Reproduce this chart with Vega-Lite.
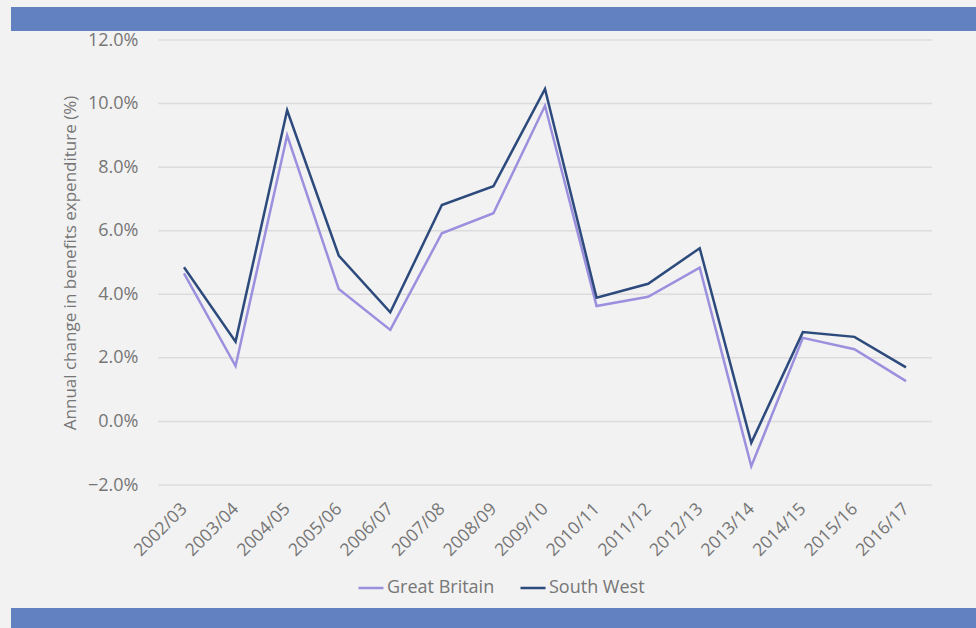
{
  "$schema": "https://vega.github.io/schema/vega-lite/v6.json",
  "background": "#f2f2f2",
  "padding": {"left": 11, "top": 7, "right": 0, "bottom": 0},
  "spacing": 0,
  "config": {
    "font": "Open Sans",
    "view": {"stroke": null}
  },
  "resolve": {"scale": {"color": "independent"}, "legend": {"color": "independent"}},
  "vconcat": [
    {
      "width": 965,
      "height": 24,
      "view": {"fill": "#6281c1", "stroke": null},
      "data": {"values": [{"band": "top"}]},
      "mark": {"type": "rect", "color": "#6281c1"},
      "encoding": {}
    },
    {
      "width": 965,
      "height": 445,
      "encoding": {
        "x": {
          "type": "ordinal",
          "sort": null,
          "scale": {
            "type": "point",
            "padding": 0,
            "domain": ["2002/03", "2003/04", "2004/05", "2005/06", "2006/07", "2007/08", "2008/09", "2009/10", "2010/11", "2011/12", "2012/13", "2013/14", "2014/15", "2015/16", "2016/17"],
            "range": [173, 895]
          },
          "axis": {
            "title": null,
            "labelAngle": -45,
            "labelAlign": "right",
            "labelBaseline": "middle",
            "labelFontSize": 17.5,
            "labelColor": "#767676",
            "domain": false,
            "ticks": false,
            "grid": false,
            "labelPadding": 21
          }
        },
        "y": {
          "type": "quantitative",
          "scale": {"domain": [-2, 12], "nice": false, "zero": false},
          "axis": {
            "values": [-2, 0, 2, 4, 6, 8, 10, 12],
            "labelExpr": "format(datum.value, '.1f') + '%'",
            "title": "Annual change in benefits expenditure (%)",
            "titleFontSize": 17,
            "titleFontWeight": "normal",
            "titleColor": "#767676",
            "titlePadding": 8,
            "labelFontSize": 18,
            "labelColor": "#767676",
            "labelPadding": 20,
            "offset": -147,
            "domain": false,
            "ticks": false,
            "grid": false
          }
        }
      },
      "layer": [
        {
          "data": {
            "values": [
              {"gridValue": -2}, {"gridValue": 0}, {"gridValue": 2}, {"gridValue": 4},
              {"gridValue": 6}, {"gridValue": 8}, {"gridValue": 10}, {"gridValue": 12}
            ]
          },
          "mark": {"type": "rule", "color": "#dcdcdc", "strokeWidth": 1.5, "xOffset": -25.8, "x2Offset": 25.8},
          "encoding": {
            "x": {"datum": "2002/03", "type": "ordinal"},
            "x2": {"datum": "2016/17"},
            "y": {"field": "gridValue", "type": "quantitative"}
          }
        },
        {
          "data": {
            "values": [
              {"year": "2002/03", "region": "Great Britain", "value": 4.66},
              {"year": "2003/04", "region": "Great Britain", "value": 1.74},
              {"year": "2004/05", "region": "Great Britain", "value": 9.00},
              {"year": "2005/06", "region": "Great Britain", "value": 4.17},
              {"year": "2006/07", "region": "Great Britain", "value": 2.88},
              {"year": "2007/08", "region": "Great Britain", "value": 5.92},
              {"year": "2008/09", "region": "Great Britain", "value": 6.55},
              {"year": "2009/10", "region": "Great Britain", "value": 9.93},
              {"year": "2010/11", "region": "Great Britain", "value": 3.63},
              {"year": "2011/12", "region": "Great Britain", "value": 3.92},
              {"year": "2012/13", "region": "Great Britain", "value": 4.84},
              {"year": "2013/14", "region": "Great Britain", "value": -1.41},
              {"year": "2014/15", "region": "Great Britain", "value": 2.63},
              {"year": "2015/16", "region": "Great Britain", "value": 2.27},
              {"year": "2016/17", "region": "Great Britain", "value": 1.27},
              {"year": "2002/03", "region": "South West", "value": 4.85},
              {"year": "2003/04", "region": "South West", "value": 2.51},
              {"year": "2004/05", "region": "South West", "value": 9.79},
              {"year": "2005/06", "region": "South West", "value": 5.22},
              {"year": "2006/07", "region": "South West", "value": 3.43},
              {"year": "2007/08", "region": "South West", "value": 6.81},
              {"year": "2008/09", "region": "South West", "value": 7.40},
              {"year": "2009/10", "region": "South West", "value": 10.46},
              {"year": "2010/11", "region": "South West", "value": 3.89},
              {"year": "2011/12", "region": "South West", "value": 4.33},
              {"year": "2012/13", "region": "South West", "value": 5.45},
              {"year": "2013/14", "region": "South West", "value": -0.67},
              {"year": "2014/15", "region": "South West", "value": 2.81},
              {"year": "2015/16", "region": "South West", "value": 2.66},
              {"year": "2016/17", "region": "South West", "value": 1.70}
            ]
          },
          "mark": {"type": "line", "strokeWidth": 2.5},
          "encoding": {
            "x": {"field": "year", "type": "ordinal", "sort": null},
            "y": {"field": "value", "type": "quantitative"},
            "color": {
              "field": "region",
              "type": "nominal",
              "scale": {"domain": ["Great Britain", "South West"], "range": ["#9b90de", "#2d4a7c"]},
              "legend": {
                "title": null,
                "orient": "none",
                "direction": "horizontal",
                "legendX": 335,
                "legendY": 523,
                "padding": 11,
                "symbolType": "stroke",
                "symbolSize": 625,
                "symbolStrokeWidth": 2.5,
                "labelFontSize": 18,
                "labelColor": "#767676",
                "labelOffset": 2,
                "columnPadding": 20
              }
            }
          }
        }
      ]
    },
    {
      "width": 965,
      "height": 20,
      "view": {"fill": "#6281c1", "stroke": null},
      "data": {"values": [{"band": "bottom"}]},
      "mark": {"type": "rect", "color": "#6281c1"},
      "encoding": {}
    }
  ]
}
